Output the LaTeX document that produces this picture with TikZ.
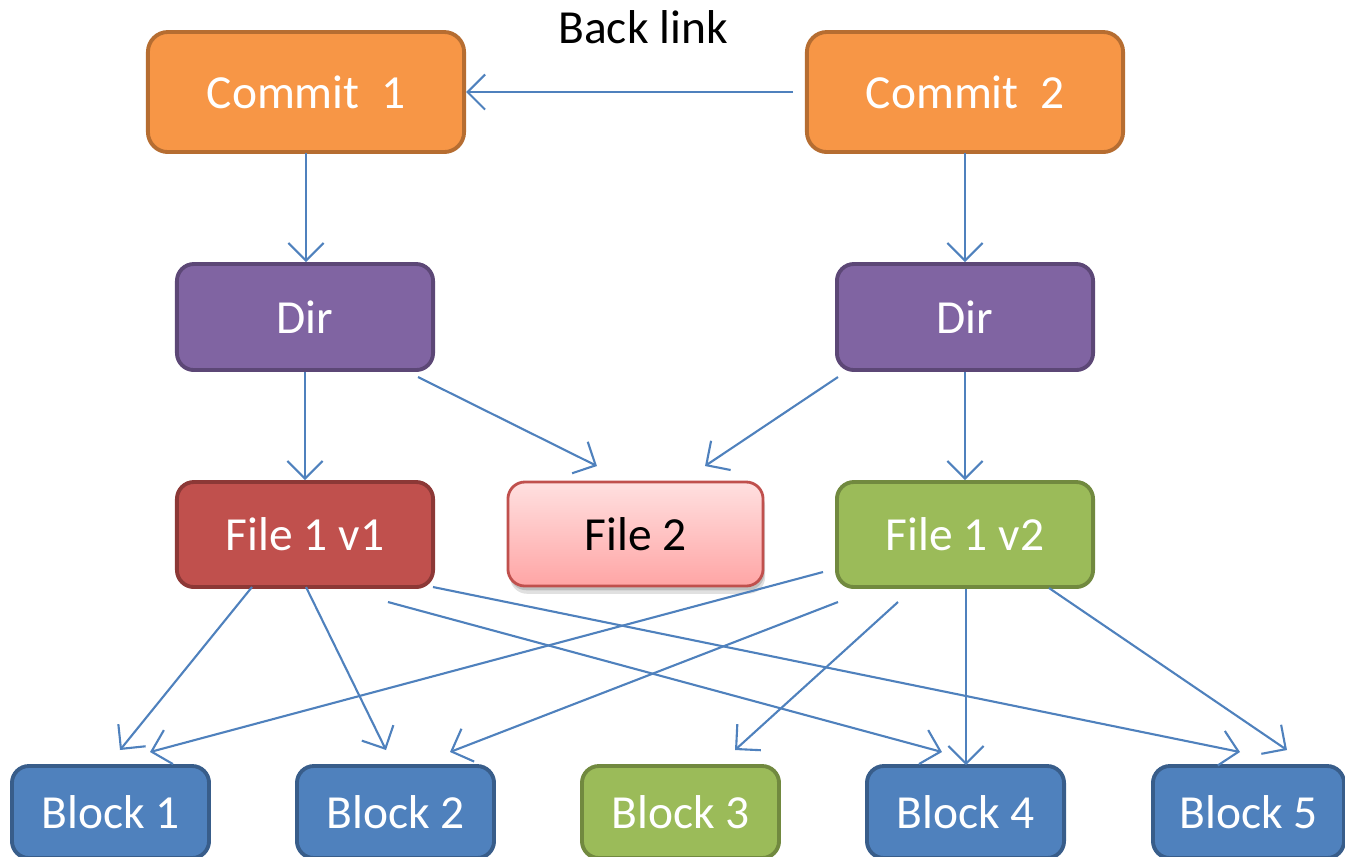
\documentclass[tikz,border=0pt]{standalone}
\usepackage{fontspec}
\setmainfont{Carlito}
\usetikzlibrary{arrows.meta,shadows}
\definecolor{orfill}{HTML}{F79646}
\definecolor{ordraw}{HTML}{B66D31}
\definecolor{pufill}{HTML}{8064A2}
\definecolor{pudraw}{HTML}{5C4776}
\definecolor{refill}{HTML}{C0504D}
\definecolor{redraw}{HTML}{8C3836}
\definecolor{grfill}{HTML}{9BBB59}
\definecolor{grdraw}{HTML}{71893F}
\definecolor{blfill}{HTML}{4F81BD}
\definecolor{bldraw}{HTML}{385D8A}
\definecolor{pktop}{HTML}{FFE0E0}
\definecolor{pkbot}{HTML}{FFA5A5}
\definecolor{arr}{HTML}{4F81BD}
\tikzset{
  box/.style={rounded corners=0.17cm, line width=1.1pt, font=\fontsize{13.5}{16}\selectfont, text=white, inner sep=0pt},
  commitbox/.style={box, fill=orfill, draw=ordraw, minimum width=3.16cm, minimum height=1.2cm, rounded corners=0.2cm},
  dirbox/.style={box, fill=pufill, draw=pudraw, minimum width=2.56cm, minimum height=1.06cm},
  filebox/.style={box, minimum width=2.56cm, minimum height=1.05cm},
  blockbox/.style={box, fill=blfill, draw=bldraw, minimum width=1.97cm, minimum height=0.92cm},
  link/.style={draw=arr, line width=0.6pt, -{Straight Barb[length=5pt,width=10pt,line width=0.6pt]}},
}
\begin{document}
\begin{tikzpicture}[x=0.01cm,y=-0.01cm]
\useasboundingbox (0,0) rectangle (1345,856);
\node[font=\fontsize{13.5}{16}\selectfont] (bl) at (643,27) {Back link};
\node[commitbox] (c1) at (306,92) {Commit\ \ 1};
\node[commitbox] (c2) at (965,92) {Commit\ \ 2};
\node[dirbox] (d1) at (305,317) {Dir};
\node[dirbox] (d2) at (965,317) {Dir};
\node[filebox, fill=refill, draw=redraw] (f1) at (305,534.5) {File 1 v1};
\node[filebox, top color=pktop, bottom color=pkbot, draw=refill, line width=0.8pt, text=black, minimum height=1.04cm, minimum width=2.55cm,
  general shadow={shadow xshift=0.6pt, shadow yshift=-2.2pt, fill=black, opacity=0.12},
  general shadow={shadow xshift=0.4pt, shadow yshift=-1.2pt, fill=black, opacity=0.15}] (f2) at (635.5,534) {File 2};
\node[filebox, fill=grfill, draw=grdraw] (f3) at (965,534.5) {File 1 v2};
\node[blockbox] (b1) at (110.5,812) {Block 1};
\node[blockbox] (b2) at (395.5,812) {Block 2};
\node[blockbox, fill=grfill, draw=grdraw] (b3) at (680.5,812) {Block 3};
\node[blockbox] (b4) at (965.5,812) {Block 4};
\node[blockbox, minimum width=1.91cm] (b5) at (1248.5,812) {Block 5};
% connector free ends
\coordinate (bls) at (793,92);
\coordinate (c1s) at (306,153);
\coordinate (d1e) at (306,262);
\coordinate (c2s) at (965,153);
\coordinate (d2e) at (965,262);
\coordinate (d1s) at (305,372);
\coordinate (f1e) at (305,480);
\coordinate (d1r) at (418,377);
\coordinate (f2l) at (597,466);
\coordinate (d2l) at (838,377);
\coordinate (f2r) at (705,466);
\coordinate (d2s) at (965,372);
\coordinate (f3e) at (965,480);
\coordinate (f1a) at (252,587);
\coordinate (f1b) at (306,587);
\coordinate (f1c) at (388,602);
\coordinate (f1d) at (433,587);
\coordinate (f3a) at (823,572);
\coordinate (f3b) at (838,602);
\coordinate (f3c) at (898,602);
\coordinate (f3d) at (966,589);
\coordinate (f3f) at (1049,588);
\coordinate (b1a) at (120,750);
\coordinate (b1b) at (150,752);
\coordinate (b2a) at (386,750);
\coordinate (b2b) at (450,752);
\coordinate (b3a) at (735,750);
\coordinate (b4a) at (942,752);
\coordinate (b4b) at (966,765);
\coordinate (b5a) at (1240,752);
\coordinate (b5b) at (1287,750);
\draw[link] (bls) -- (c1.east);
\draw[link] (c1s) -- (d1e);
\draw[link] (c2s) -- (d2e);
\draw[link] (d1s) -- (f1e);
\draw[link] (d1r) -- (f2l);
\draw[link] (d2l) -- (f2r);
\draw[link] (d2s) -- (f3e);
\draw[link] (f1a) -- (b1a);
\draw[link] (f1b) -- (b2a);
\draw[link] (f1c) -- (b4a);
\draw[link] (f1d) -- (b5a);
\draw[link] (f3a) -- (b1b);
\draw[link] (f3b) -- (b2b);
\draw[link] (f3c) -- (b3a);
\draw[link] (f3d) -- (b4b);
\draw[link] (f3f) -- (b5b);
\end{tikzpicture}
\end{document}
